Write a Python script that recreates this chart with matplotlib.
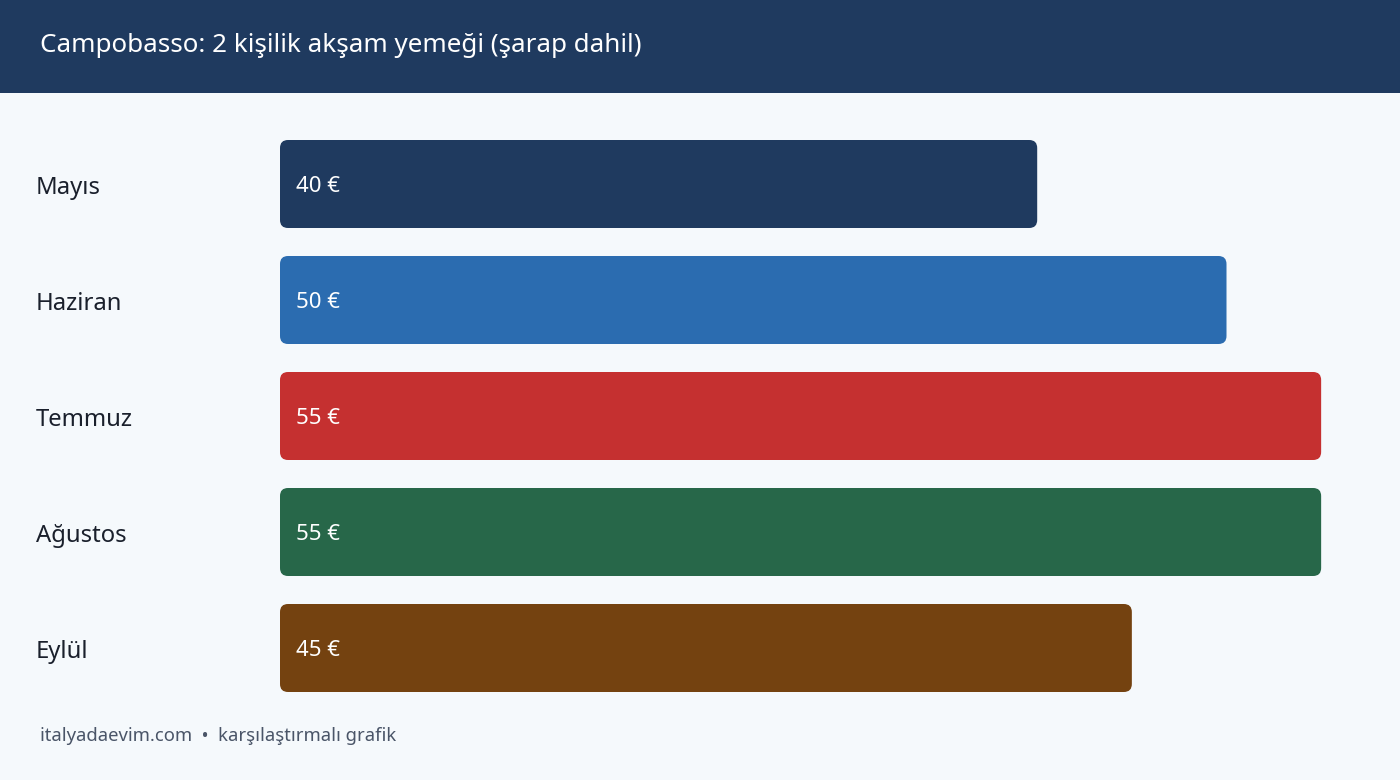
import matplotlib
matplotlib.use("Agg")
import matplotlib.pyplot as plt
from matplotlib.patches import FancyBboxPatch, Rectangle

plt.rcParams['font.family'] = ['Noto Sans', 'DejaVu Sans']

# data
months = ["Mayıs", "Haziran", "Temmuz", "Ağustos", "Eylül"]
prices = [40, 50, 55, 55, 45]
colors = ["#1f3a5f", "#2b6cb0", "#c53030", "#276749", "#744210"]
title = "Campobasso: 2 kişilik akşam yemeği (şarap dahil)"
footer = "italyadaevim.com  •  karşılaştırmalı grafik"

W, H = 1400, 780
fig = plt.figure(figsize=(W / 100, H / 100), dpi=100)
fig.patch.set_facecolor("#f5f9fc")

# header band
fig.patches.append(Rectangle((0, 1 - 93 / H), 1, 93 / H, transform=fig.transFigure,
                             facecolor="#1f3a5f", edgecolor="none", zorder=0))
fig.text(40 / W, 1 - 46 / H, title, color="white", fontsize=18.7, va="center", ha="left")

# bar axes: x=0 at 280px, 18.93 px per euro; rows 116px apart
px_per_unit = 18.93
ax = fig.add_axes([280 / W, (H - 706) / H, (W - 280) / W, 580 / H])
ax.set_xlim(0, (W - 280) / px_per_unit)
ax.set_ylim(len(months) - 0.5, -0.5)
ax.axis("off")

bar_h = 88 / 116
aspect = px_per_unit / 116
for i, (m, v, c) in enumerate(zip(months, prices, colors)):
  box = FancyBboxPatch((0, i - bar_h / 2), v, bar_h,
                       boxstyle="round,pad=0,rounding_size=%f" % (8 / px_per_unit),
                       mutation_aspect=aspect, facecolor=c, edgecolor="none")
  ax.add_patch(box)
  ax.text(16 / px_per_unit, i + 2 / 116, "%d €" % v, color="white", fontsize=16,
          va="center", ha="left")
  # category label on the left, outside the axes
  ax.text(-244 / px_per_unit, i + 4 / 116, m, color="#1a202c", fontsize=17.2,
          va="center", ha="left", clip_on=False)

fig.text(40 / W, 1 - 736 / H, footer, color="#4a5568", fontsize=13.3,
         va="center", ha="left")

fig.savefig("out.png", dpi=100, facecolor=fig.get_facecolor())
